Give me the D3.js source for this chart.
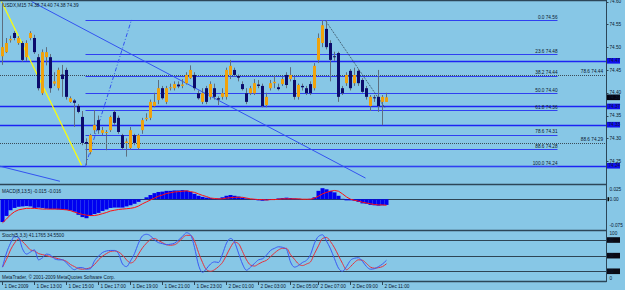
<!DOCTYPE html>
<html>
<head>
<meta charset="utf-8">
<script src="https://cdn.jsdelivr.net/npm/d3@7"></script>
<style>
  html, body { margin: 0; padding: 0; background: #87c7e6; }
  svg { display: block; }
  text { font-family: "Liberation Sans", Arial, sans-serif; font-size: 4.7px; fill: #0a1830; }
</style>
</head>
<body>
<svg id="chart"></svg>
<script>
// === USDX M15 : bougies, fibo, MACD et stochastique ===

// bougies (une par barre de 15 min, à partir du 1 Dec 11:00)
const opens = [74.480,74.489,74.515,74.531,74.509,74.509,74.478,74.520,74.520,74.478,
  74.399,74.478,74.478,74.420,74.410,74.440,74.450,74.380,74.383,74.371,
  74.347,74.292,74.270,74.318,74.340,74.312,74.312,74.318,74.358,74.345,
  74.307,74.290,74.279,74.307,74.279,74.318,74.342,74.345,74.371,74.384,
  74.410,74.380,74.410,74.410,74.418,74.415,74.421,74.432,74.439,74.399,
  74.380,74.410,74.391,74.410,74.388,74.391,74.391,74.439,74.450,74.437,
  74.419,74.399,74.399,74.399,74.418,74.415,74.373,74.410,74.421,74.412,
  74.419,74.439,74.430,74.428,74.391,74.415,74.410,74.419,74.410,74.472,
  74.509,74.540,74.509,74.480,74.487,74.410,74.421,74.448,74.421,74.448,
  74.428,74.410,74.371,74.390,74.391,74.380,74.380];
const highs = [74.598,74.520,74.525,74.535,74.524,74.513,74.515,74.535,74.527,74.485,
  74.495,74.500,74.485,74.445,74.455,74.461,74.455,74.392,74.386,74.375,
  74.360,74.300,74.310,74.362,74.350,74.325,74.318,74.350,74.362,74.350,
  74.310,74.300,74.325,74.310,74.310,74.345,74.355,74.385,74.400,74.428,
  74.415,74.415,74.420,74.425,74.425,74.430,74.445,74.460,74.445,74.405,
  74.410,74.415,74.425,74.420,74.392,74.410,74.455,74.472,74.455,74.440,
  74.425,74.410,74.415,74.430,74.428,74.420,74.400,74.428,74.437,74.420,
  74.435,74.445,74.456,74.435,74.420,74.420,74.415,74.425,74.465,74.530,
  74.559,74.559,74.515,74.490,74.490,74.415,74.445,74.452,74.455,74.452,
  74.432,74.415,74.395,74.395,74.450,74.395,74.400];
const lows = [74.461,74.487,74.510,74.515,74.505,74.468,74.470,74.515,74.485,74.405,
  74.395,74.460,74.400,74.415,74.405,74.391,74.385,74.378,74.325,74.355,
  74.285,74.241,74.265,74.310,74.310,74.307,74.274,74.314,74.330,74.310,
  74.275,74.260,74.275,74.285,74.275,74.310,74.338,74.340,74.368,74.375,
  74.385,74.375,74.405,74.405,74.410,74.410,74.418,74.430,74.405,74.385,
  74.375,74.375,74.385,74.385,74.373,74.385,74.385,74.430,74.435,74.425,
  74.405,74.375,74.395,74.395,74.410,74.368,74.368,74.405,74.410,74.405,
  74.415,74.410,74.425,74.385,74.385,74.405,74.395,74.395,74.405,74.465,
  74.500,74.495,74.425,74.470,74.380,74.395,74.415,74.405,74.415,74.415,
  74.400,74.385,74.360,74.380,74.358,74.329,74.380];
const closes = [74.500,74.509,74.518,74.520,74.520,74.472,74.509,74.531,74.489,74.410,
  74.489,74.489,74.410,74.425,74.450,74.430,74.391,74.388,74.378,74.358,
  74.290,74.288,74.307,74.329,74.318,74.318,74.314,74.347,74.334,74.314,
  74.279,74.293,74.318,74.290,74.307,74.340,74.345,74.380,74.380,74.410,
  74.388,74.410,74.412,74.419,74.414,74.418,74.439,74.450,74.410,74.388,
  74.399,74.380,74.419,74.391,74.385,74.399,74.450,74.459,74.439,74.433,
  74.408,74.380,74.410,74.421,74.415,74.371,74.391,74.421,74.424,74.408,
  74.430,74.417,74.439,74.391,74.417,74.412,74.399,74.399,74.459,74.520,
  74.548,74.500,74.472,74.478,74.391,74.399,74.439,74.410,74.439,74.421,
  74.402,74.391,74.391,74.388,74.371,74.391,74.390];

// MACD(8,13,5) : histogramme principal et signal
const macdMain = [-0.060,-0.044,-0.029,-0.023,-0.020,-0.019,-0.018,-0.019,-0.023,-0.022,
  -0.023,-0.025,-0.026,-0.026,-0.027,-0.028,-0.028,-0.030,-0.033,-0.041,
  -0.047,-0.050,-0.044,-0.039,-0.036,-0.031,-0.027,-0.023,-0.022,-0.022,
  -0.022,-0.019,-0.016,-0.012,-0.007,-0.001,0.005,0.011,0.016,0.019,
  0.020,0.022,0.022,0.023,0.023,0.024,0.023,0.019,0.014,0.009,
  0.006,0.004,0.003,0.001,0.002,0.005,0.009,0.011,0.009,0.007,
  0.004,0.002,0.000,-0.002,-0.003,-0.004,-0.003,-0.002,0.000,0.002,
  0.003,0.004,0.003,0.002,0.001,0.000,0.000,0.001,0.005,0.022,
  0.029,0.026,0.022,0.018,0.009,0.001,-0.003,-0.003,-0.004,-0.007,
  -0.011,-0.012,-0.015,-0.016,-0.017,-0.016,-0.015];
const macdSignal = [-0.062,-0.052,-0.041,-0.033,-0.028,-0.026,-0.024,-0.024,-0.024,-0.025,
  -0.026,-0.026,-0.026,-0.026,-0.026,-0.027,-0.028,-0.030,-0.034,-0.037,
  -0.040,-0.042,-0.043,-0.043,-0.041,-0.038,-0.035,-0.031,-0.029,-0.027,
  -0.026,-0.025,-0.024,-0.022,-0.018,-0.012,-0.007,-0.002,0.003,0.008,
  0.011,0.015,0.017,0.019,0.020,0.021,0.022,0.020,0.018,0.014,
  0.010,0.007,0.003,0.002,0.001,0.001,0.003,0.004,0.005,0.005,
  0.005,0.003,0.001,0.000,-0.001,-0.001,-0.002,-0.001,-0.001,0.000,
  0.001,0.001,0.001,0.001,0.001,0.000,0.000,0.000,0.003,0.008,
  0.014,0.018,0.021,0.023,0.021,0.014,0.006,0.000,-0.003,-0.005,
  -0.008,-0.010,-0.012,-0.014,-0.015,-0.015,-0.016];

// Stochastique(5,3,3)
const stochK = [28,55,74,87,85,63,53,57,61,42,46,53,51,44,42,42,36,28,23,27,
  27,24,25,40,49,56,59,60,60,54,34,29,40,54,74,88,91,88,80,75,
  73,71,72,74,80,87,94,90,66,32,18,25,34,38,37,53,74,83,76,55,
  34,22,28,35,42,44,51,60,64,67,66,62,38,28,31,37,41,52,74,87,
  90,78,63,44,26,20,29,41,45,46,39,29,24,25,29,34,41.1765];
const stochD = [28,43,61,74,82,77,69,61,59,54,52,50,48,46,44,42,39,33,29,25,
  24,25,27,33,42,49,54,58,59,57,51,42,36,40,53,65,74,81,83,79,
  75,71,70,71,76,84,89,89,78,56,37,23,20,23,29,37,51,66,76,73,
  58,42,32,30,34,38,41,48,55,61,64,64,52,43,34,31,34,38,54,69,
  83,85,77,65,50,35,23,29,37,42,41,35,28,26,27,29,34.55];

// axe du temps : barres portant une étiquette
const tickBars = [0, 8, 16, 24, 32, 40, 48, 56, 64, 72, 79, 87, 95];
const tickLabels = ["1 Dec 2009", "1 Dec 13:00", "1 Dec 15:00", "1 Dec 17:00", "1 Dec 19:00",
  "1 Dec 21:00", "1 Dec 23:00", "2 Dec 01:00", "2 Dec 03:00", "2 Dec 05:00",
  "2 Dec 07:00", "2 Dec 09:00", "2 Dec 11:00"];

// échelle des prix
const priceTicks = [74.60, 74.55, 74.50, 74.45, 74.40, 74.35, 74.30, 74.25];
const hLinePrices = [74.47, 74.37, 74.33, 74.24];

// fibonacci (tracé du bas 74.24 au haut 74.56)
const fibLevels = [0, 23.6, 38.2, 50, 61.8, 78.6, 88.6, 100];
const fibHigh = 74.56, fibLow = 74.24;
// deuxième fibo, seulement deux niveaux visibles
const fib2Levels = ["78.6", "88.6"];
const fib2Prices = [74.44, 74.29];

const macdTicks = [0.025, 0, -0.075];
const stochLevels = [80, 50, 20];

// === dessin ===
const W = 625, H = 290, axisX = 606.5;
const svg = d3.select("#chart").attr("width", W).attr("height", H);
svg.append("rect").attr("width", W).attr("height", H).attr("fill", "#87c7e6");

const x = d3.scaleLinear().domain([0, 1]).range([1.5, 5.5]);   // 4 px par barre
const cx = i => Math.round(x(i)) + 0.5;
const yP = d3.scaleLinear().domain([74.20, 74.60]).range([184, 1.5]);
const yM = d3.scaleLinear().domain([-0.081, 0.040]).range([230, 184]);
const yS = d3.scaleLinear().domain([0, 100]).range([281.7, 229.6]);

const defs = svg.append("defs");
function clip(id, y0, y1) {
  defs.append("clipPath").attr("id", id).append("rect")
    .attr("x", 0).attr("y", y0).attr("width", axisX).attr("height", y1 - y0);
  return svg.append("g").attr("clip-path", `url(#${id})`);
}
const gMain = clip("cMain", 1, 184);
const gMacd = clip("cMacd", 185, 230);
const gStoch = clip("cStoch", 231, 281);

// lignes horizontales épaisses
gMain.selectAll("line.hl").data(hLinePrices).join("line")
  .attr("x1", 0).attr("x2", axisX)
  .attr("y1", d => Math.round(yP(d)) + 0.5).attr("y2", d => Math.round(yP(d)) + 0.5)
  .attr("stroke", "#1c24f4").attr("stroke-width", 1.6);

// niveaux du deuxième fibo (gris foncé, sur toute la largeur)
gMain.selectAll("line.f2").data(fib2Prices).join("line")
  .attr("x1", 0).attr("x2", axisX)
  .attr("y1", d => Math.round(yP(d)) + 0.5).attr("y2", d => Math.round(yP(d)) + 0.5)
  .attr("stroke", "#3c4c58").attr("stroke-width", 1).attr("stroke-dasharray", "1,1");
svg.selectAll("text.f2").data(fib2Prices).join("text")
  .attr("x", 603).attr("y", d => yP(d) - 1.5).attr("text-anchor", "end")
  .attr("fill", "#22303c")
  .text((d, i) => `${fib2Levels[i]}  ${d.toFixed(2)}`);

// fibonacci principal
const fibStart = 21, fibEnd = 139, fibTop = 32.5;
const fibPrice = l => fibHigh - (fibHigh - fibLow) * l / 100;
gMain.selectAll("line.fib").data(fibLevels).join("line")
  .attr("x1", x(fibStart)).attr("x2", x(fibEnd))
  .attr("y1", d => Math.round(yP(fibPrice(d))) + 0.5).attr("y2", d => Math.round(yP(fibPrice(d))) + 0.5)
  .attr("stroke", "#2f40f2").attr("stroke-width", 1);
gMain.selectAll("text.fib").data(fibLevels).join("text")
  .attr("x", x(fibEnd)).attr("y", d => yP(fibPrice(d)) - 1.2).attr("text-anchor", "end")
  .attr("fill", "#1f2fe8")
  .text(d => `${d.toFixed(1)}  ${fibPrice(d).toFixed(2)}`);

// lignes de tendance (coordonnées en barres / prix)
const trendLines = [
  { a: [0, 74.600], b: [20, 74.241], color: "#ffff00", width: 1.2, dash: null },
  { a: [7.5, 74.600], b: [91, 74.213], color: "#3352f0", width: 1, dash: null },
  { a: [-0.4, 74.239], b: [14.6, 74.206], color: "#3352f0", width: 1, dash: null },
  { a: [fibStart, fibLow], b: [fibTop, fibHigh], color: "#3352f0", width: 1, dash: "4,2,1,2" },
  { a: [81, 74.558], b: [95.8, 74.368], color: "#34495a", width: 1, dash: "1,1" }
];
gMain.selectAll("line.tl").data(trendLines).join("line")
  .attr("x1", d => x(d.a[0])).attr("y1", d => yP(d.a[1]))
  .attr("x2", d => x(d.b[0])).attr("y2", d => yP(d.b[1]))
  .attr("stroke", d => d.color).attr("stroke-width", d => d.width)
  .attr("stroke-dasharray", d => d.dash);

// bougies
const bars = closes.map((c, i) => ({ i, o: opens[i], h: highs[i], l: lows[i], c }));
gMain.selectAll("line.wick").data(bars).join("line")
  .attr("x1", d => cx(d.i)).attr("x2", d => cx(d.i))
  .attr("y1", d => yP(d.h)).attr("y2", d => yP(d.l))
  .attr("stroke", "#5d6e80").attr("stroke-width", 1);
gMain.selectAll("rect.body").data(bars).join("rect")
  .attr("x", d => cx(d.i) - 1.5).attr("width", 3)
  .attr("y", d => yP(Math.max(d.o, d.c)))
  .attr("height", d => Math.max(1, Math.abs(yP(d.o) - yP(d.c))))
  .attr("fill", d => d.c >= d.o ? "#f0a20c" : "#0c0c6c");

// titre
svg.append("text").attr("x", 3).attr("y", 7)
  .text(`USDX,M15  ${opens[opens.length - 1].toFixed(2)} ${highs[highs.length - 1].toFixed(2)} ${lows[lows.length - 1].toFixed(2)} ${closes[closes.length - 1].toFixed(2)}`);

// MACD
gMacd.append("line").attr("x1", 0).attr("x2", axisX)
  .attr("y1", Math.round(yM(0)) + 0.5).attr("y2", Math.round(yM(0)) + 0.5)
  .attr("stroke", "#2e4454");
gMacd.selectAll("rect.h").data(macdMain).join("rect")
  .attr("x", (d, i) => cx(i) - 2).attr("width", 4)
  .attr("y", d => Math.min(yM(d), yM(0)))
  .attr("height", d => Math.abs(yM(d) - yM(0)))
  .attr("fill", "#0000f0");
gMacd.append("path").datum(macdSignal)
  .attr("d", d3.line().x((d, i) => cx(i)).y(d => yM(d)))
  .attr("fill", "none").attr("stroke", "#ff1010").attr("stroke-width", 1);
svg.append("text").attr("x", 2).attr("y", 192.5)
  .text(`MACD(8,13,5) ${macdMain[macdMain.length - 1].toFixed(3)} ${macdSignal[macdSignal.length - 1].toFixed(3)}`);

// Stochastique
gStoch.selectAll("line.lv").data(stochLevels).join("line")
  .attr("x1", 0).attr("x2", axisX)
  .attr("y1", d => Math.round(yS(d)) + 0.5).attr("y2", d => Math.round(yS(d)) + 0.5)
  .attr("stroke", "#2e4454");
const stochLine = d3.line().x((d, i) => cx(i)).y(d => yS(d)).curve(d3.curveMonotoneX);
gStoch.append("path").datum(stochD).attr("d", stochLine)
  .attr("fill", "none").attr("stroke", "#e8303a").attr("stroke-width", 1);
gStoch.append("path").datum(stochK).attr("d", stochLine)
  .attr("fill", "none").attr("stroke", "#3a58f4").attr("stroke-width", 1);
svg.append("text").attr("x", 2).attr("y", 237)
  .text(`Stoch(5,3,3) ${stochK[stochK.length - 1].toFixed(4)} ${stochD[stochD.length - 1].toFixed(4)}`);
svg.append("text").attr("x", 2).attr("y", 279)
  .text("MetaTrader, © 2001-2009 MetaQuotes Software Corp.");

// séparateurs de fenêtres
svg.selectAll("line.sep").data([0.5, 184.5, 230.5, 281.5]).join("line")
  .attr("x1", 0).attr("x2", axisX).attr("y1", d => d).attr("y2", d => d)
  .attr("stroke", "#2c4658").attr("stroke-width", 1.5);
svg.append("line").attr("x1", axisX).attr("x2", axisX).attr("y1", 0).attr("y2", 282)
  .attr("stroke", "#2c4658");

// échelle des prix à droite
svg.selectAll("text.pt").data(priceTicks).join("text")
  .attr("x", 609.5).attr("y", d => yP(d)).attr("dy", "0.35em").text(d => d.toFixed(2));
svg.selectAll("line.ptk").data(priceTicks).join("line")
  .attr("x1", axisX).attr("x2", axisX + 2)
  .attr("y1", d => Math.round(yP(d)) + 0.5).attr("y2", d => Math.round(yP(d)) + 0.5)
  .attr("stroke", "#2c4658");
function marker(v, y, fill) {
  svg.append("rect").attr("x", 607).attr("y", y - 2.8).attr("width", 13).attr("height", 5.6).attr("fill", fill);
  svg.append("text").attr("x", 608.5).attr("y", y).attr("dy", "0.35em").attr("fill", "#ffffff").text(v);
}
hLinePrices.forEach(p => marker(p.toFixed(2), yP(p), "#1010f0"));
marker(closes[closes.length - 1].toFixed(2), yP(closes[closes.length - 1]), "#050510");

// échelle MACD
const clampM = y => Math.max(189, Math.min(225, y));
svg.selectAll("text.mt").data(macdTicks).join("text")
  .attr("x", 609.5).attr("y", d => clampM(yM(d))).attr("dy", "0.35em")
  .text(d => d === 0 ? "0.00" : d.toFixed(3));
svg.append("rect").attr("x", 607.5).attr("y", yM(0) - 2).attr("width", 1.5).attr("height", 4).attr("fill", "#000");

// échelle stochastique
svg.append("text").attr("x", 609.5).attr("y", 233).attr("dy", "0.35em").text("100");
svg.append("text").attr("x", 609.5).attr("y", 278.5).attr("dy", "0.35em").text("0");
stochLevels.forEach(l => marker(String(l), yS(l), "#0a0a14"));

// axe du temps
svg.selectAll("line.tt").data(tickBars).join("line")
  .attr("x1", d => cx(d)).attr("x2", d => cx(d)).attr("y1", 281.5).attr("y2", 285)
  .attr("stroke", "#2c4658");
svg.selectAll("text.tt").data(tickBars).join("text")
  .attr("x", d => cx(d) + 2).attr("y", 288)
  .text((d, i) => tickLabels[i]);
</script>
</body>
</html>
